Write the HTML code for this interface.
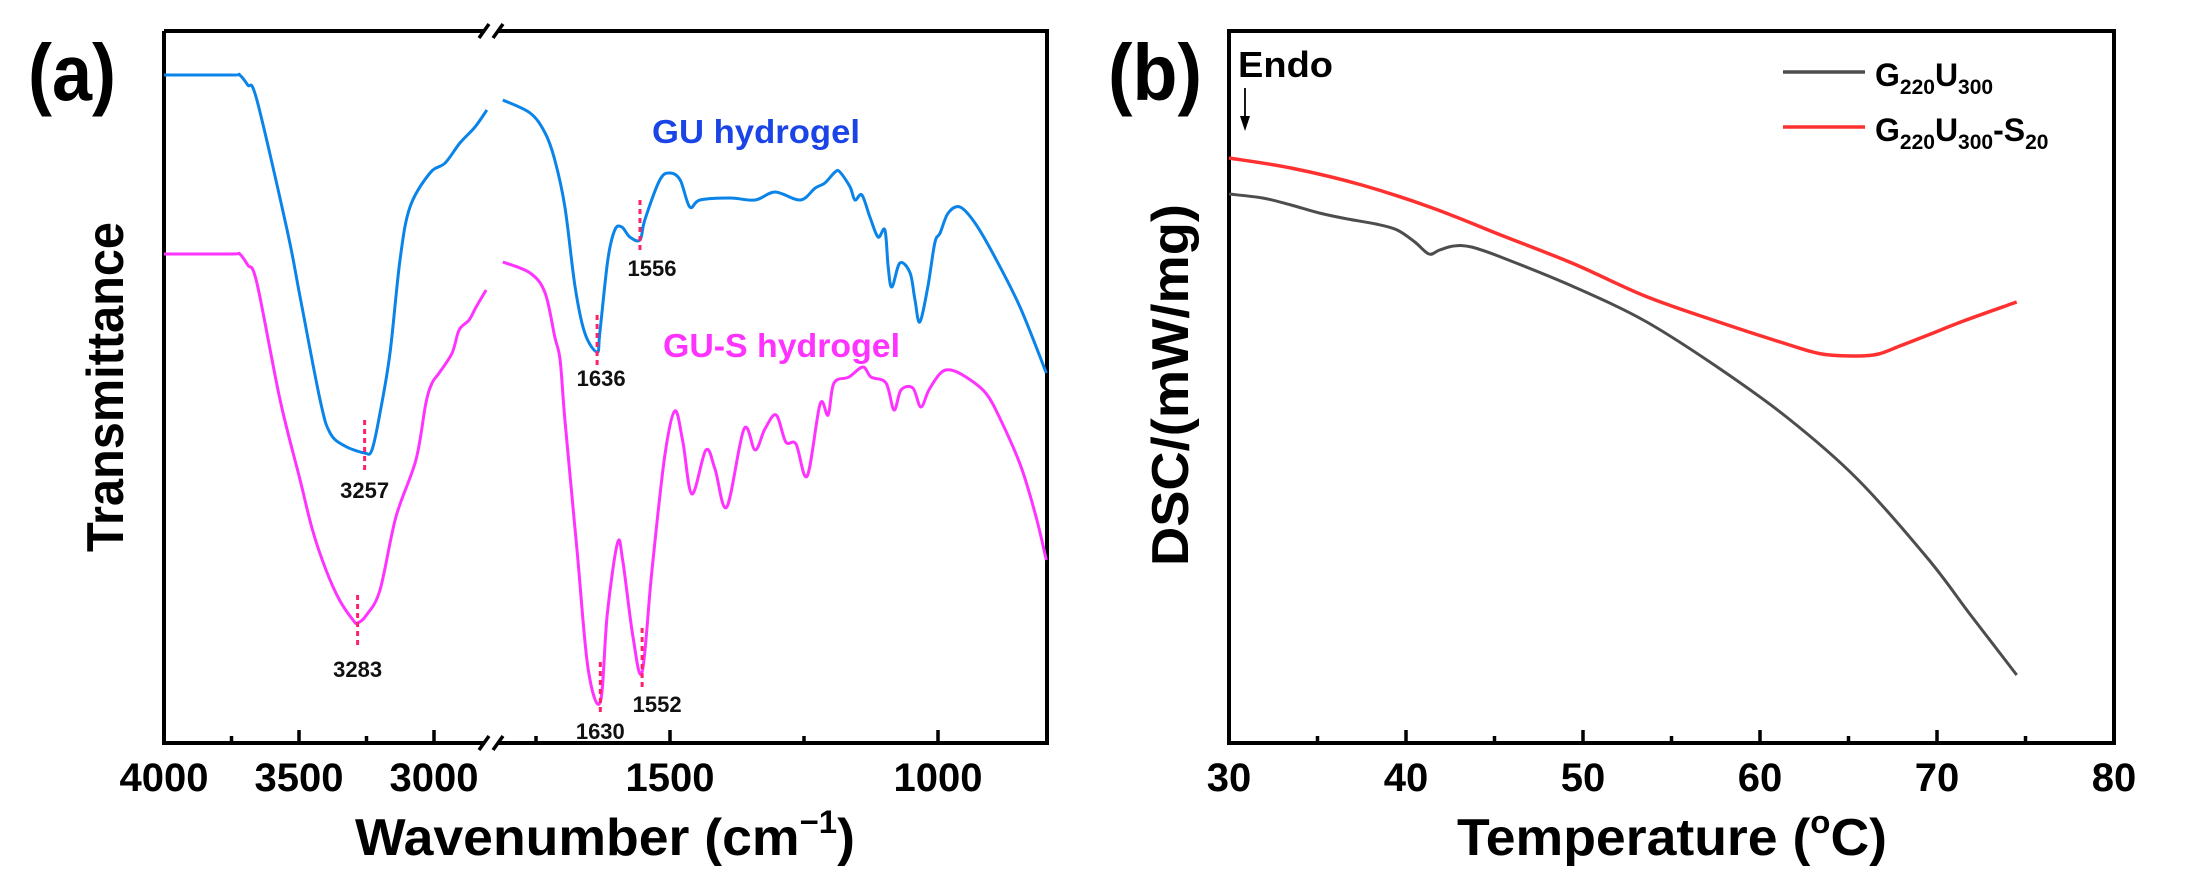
<!DOCTYPE html>
<html><head><meta charset="utf-8"><title>FTIR and DSC</title>
<style>
html,body{margin:0;padding:0;background:#fff;}
svg{display:block;font-family:"Liberation Sans",Arial,sans-serif;}
</style></head>
<body>
<svg id="fig" width="2188" height="884" viewBox="0 0 2188 884">
  <g id="panelA"></g>
  <g id="panelB"></g>
</svg>
<script>
// ---------- Panel (a) FTIR data ----------
const guWave = [4000,3750,3720,3690,3656,3544,3496,3422,3385,3330,3257,3230,3200,3163,3126,3089,3015,2959,2904,2848,2804,
  1812,1761,1733,1715,1696,1677,1659,1636,1631,1616,1603,1590,1575,1556,1547,1519,1500,1481,1463,1444,1388,1341,1304,1257,1229,1211,1192,1183,1164,1155,1142,1127,1112,1099,1093,1086,1071,1052,1043,1034,1019,1006,996,981,959,931,894,847,798];
const guVal = [668,668,668,658,643,513,446,343,310,297,290,293,330,390,483,536,570,580,600,616,633,
  643,630,610,583,536,456,410,391,410,483,513,516,506,503,523,563,570,563,536,543,545,543,551,543,555,560,571,571,556,543,548,526,506,513,476,456,480,470,443,421,456,500,510,530,536,520,486,436,370];
const gusWave = [4000,3750,3720,3690,3656,3570,3496,3450,3400,3350,3300,3283,3250,3200,3141,3067,3030,3007,2981,2933,2907,2870,2844,2807,
  1812,1761,1733,1715,1705,1696,1673,1653,1630,1617,1598,1588,1569,1552,1534,1510,1491,1476,1459,1433,1416,1394,1362,1341,1323,1302,1284,1265,1244,1220,1205,1194,1166,1140,1125,1097,1082,1069,1047,1032,1017,995,976,948,911,883,845,817,798];
const gusVal = [489,489,489,478,460,343,263,213,173,143,123,120,128,153,226,283,340,360,370,390,413,423,436,453,
  481,470,450,406,383,323,190,75,41,129,200,182,106,71,171,286,332,301,249,293,274,236,314,293,314,328,301,299,267,339,328,360,366,376,366,360,333,353,355,336,353,370,373,366,350,323,276,226,183];
const peakWaves = [3257,1636,1556,3283,1630,1552];
const peakSeries = ["gu","gu","gu","gus","gus","gus"];
const xTicksA = [4000,3500,3000,1500,1000];
const xMinorA = [3750,3250,1750,1250];

// ---------- Panel (b) DSC data ----------
const tempRed = [30,33.5,37.5,41.5,45.5,49.5,53.5,57.5,61.5,63.5,65.5,66.7,67.9,69.5,71.5,74.5];
const dscRed  = [585,575,558,535,507,479,447,422,399,389,387,389,397,408,422,441];
const tempGray = [30,31.9,33.5,35.1,36.7,38.3,39.5,40.5,41.3,41.9,42.7,43.7,45.5,49.5,53.5,57.5,61.5,65.5,69.5,71.9,74.5];
const dscGray  = [549,545,538,530,524,519,513,501,489,493,497,496,485,456,422,377,326,264,184,128,68];
const xTicksB = [30,40,50,60,70,80];
const xMinorB = [35,45,55,65,75];

const NS = "http://www.w3.org/2000/svg";
function mk(tag, attrs, parent){
  const e = document.createElementNS(NS, tag);
  for (const k in attrs) e.setAttribute(k, attrs[k]);
  parent.appendChild(e);
  return e;
}
function smooth(pts){
  if (!pts.length) return '';
  let d = 'M' + pts[0][0].toFixed(1) + ',' + pts[0][1].toFixed(1);
  for (let i=0;i<pts.length-1;i++){
    const p0 = pts[Math.max(0,i-1)], p1 = pts[i], p2 = pts[i+1], p3 = pts[Math.min(pts.length-1,i+2)];
    const c1x = p1[0] + (p2[0]-p0[0])/6, c1y = p1[1] + (p2[1]-p0[1])/6;
    const c2x = p2[0] - (p3[0]-p1[0])/6, c2y = p2[1] - (p3[1]-p1[1])/6;
    d += ` C${c1x.toFixed(1)},${c1y.toFixed(1)} ${c2x.toFixed(1)},${c2y.toFixed(1)} ${p2[0].toFixed(1)},${p2[1].toFixed(1)}`;
  }
  return d;
}

// ----- scales -----
const A = {l:164, r:1047, t:31, b:743};
function xA(w){ return w >= 2790 ? 164 + (4000 - w) * 0.27 : 670 + (1500 - w) * 0.536; }
function yA(v){ return A.b - v; }
const B = {l:1229, r:2114, t:31, b:743};
function xB(t){ return B.l + (t - 30) * (B.r - B.l) / 50; }
function yB(v){ return B.b - v; }

const pa = document.getElementById('panelA');
const pb = document.getElementById('panelB');

// ----- Panel A frame -----
let el;
el = mk('path', {d:`M${A.l},${A.t} V${A.b} H485 M498,${A.b} H${A.r} V${A.t} H498 M485,${A.t} H${A.l}`, fill:'none', stroke:'#000', 'stroke-width':4}, pa);


[[A.b],[A.t]].forEach(([yy], i)=>{
  const g = mk('path', {d:`M479,${yy+7} L489,${yy-7} M493,${yy+7} L503,${yy-7}`, stroke:'#000', 'stroke-width':3.5, fill:'none'}, pa);
  
  
});
xTicksA.forEach(w=>{
  const x = xA(w);
  const t = mk('line', {x1:x, x2:x, y1:A.b, y2:A.b-13, stroke:'#000', 'stroke-width':3.5}, pa);
  
  
  const lb = mk('text', {x:x, y:791, 'font-size':40, 'font-weight':'bold', 'text-anchor':'middle', fill:'#000'}, pa);
  lb.textContent = w;
  
  
});
xMinorA.forEach(w=>{
  const x = xA(w);
  const t = mk('line', {x1:x, x2:x, y1:A.b, y2:A.b-7, stroke:'#000', 'stroke-width':3.5}, pa);
  
  
});

// ----- Panel A series -----
function seriesPath(ws, vs){
  const left = [], right = [];
  ws.forEach((w,i)=>{ (w >= 2790 ? left : right).push([xA(w), yA(vs[i])]); });
  return smooth(left) + ' ' + smooth(right);
}
el = mk('path', {d:seriesPath(guWave, guVal), fill:'none', stroke:'#0a84e8', 'stroke-width':3, 'stroke-linejoin':'round'}, pa);


el = mk('path', {d:seriesPath(gusWave, gusVal), fill:'none', stroke:'#ff33ff', 'stroke-width':3, 'stroke-linejoin':'round'}, pa);



// peak annotations
const dashUp = [33,37,40,28,40,44];
const dashDown = [20,13,10,25,11,18];
const labDy = [45,34,36,54,37,40];
const labDx = [0,4,12,0,0,15];
peakWaves.forEach((w,i)=>{
  const ws = peakSeries[i]==='gu' ? guWave : gusWave;
  const vs = peakSeries[i]==='gu' ? guVal : gusVal;
  const v = vs[ws.indexOf(w)];
  const x = xA(w), y = yA(v);
  const dl = mk('line', {x1:x, x2:x, y1:y-dashUp[i], y2:y+dashDown[i], stroke:'#ff2266', 'stroke-width':3, 'stroke-dasharray':'5,4'}, pa);
  
  
  const lb = mk('text', {x:x+labDx[i], y:y+labDy[i], 'font-size':22, 'font-weight':'bold', 'text-anchor':'middle', fill:'#111'}, pa);
  lb.textContent = w;
  
  
});

// ----- Panel B frame -----
el = mk('rect', {x:B.l, y:B.t, width:B.r-B.l, height:B.b-B.t, fill:'none', stroke:'#000', 'stroke-width':4}, pb);


xTicksB.forEach(t=>{
  const x = xB(t);
  if (t>30 && t<80){
    const tk = mk('line', {x1:x, x2:x, y1:B.b, y2:B.b-13, stroke:'#000', 'stroke-width':3.5}, pb);
    
    
  }
  const lb = mk('text', {x:x, y:791, 'font-size':40, 'font-weight':'bold', 'text-anchor':'middle', fill:'#000'}, pb);
  lb.textContent = t;
  
  
});
xMinorB.forEach(t=>{
  const x = xB(t);
  const tk = mk('line', {x1:x, x2:x, y1:B.b, y2:B.b-7, stroke:'#000', 'stroke-width':3.5}, pb);
  
  
});
function dscPath(ts, vs){
  return smooth(ts.map((t,i)=>[xB(t), yB(vs[i])]));
}
el = mk('path', {d:dscPath(tempGray, dscGray), fill:'none', stroke:'#4d4d4d', 'stroke-width':3, 'stroke-linejoin':'round'}, pb);


el = mk('path', {d:dscPath(tempRed, dscRed), fill:'none', stroke:'#ff3030', 'stroke-width':3.5, 'stroke-linejoin':'round'}, pb);


</script>

<!-- static text overlays -->
<svg width="2188" height="884" viewBox="0 0 2188 884" style="position:absolute;left:0;top:0;font-family:'Liberation Sans',Arial,sans-serif;">
  <text x="28" y="100" font-size="80" font-weight="bold" textLength="88" lengthAdjust="spacingAndGlyphs">(a)</text>
  <text x="1108" y="100" font-size="80" font-weight="bold" textLength="94" lengthAdjust="spacingAndGlyphs">(b)</text>

  <text x="652" y="143" font-size="33" font-weight="bold" fill="#1a44e6" textLength="208" lengthAdjust="spacingAndGlyphs">GU hydrogel</text>
  <text x="663" y="357" font-size="33" font-weight="bold" fill="#ff33ff" textLength="237" lengthAdjust="spacingAndGlyphs">GU-S hydrogel</text>

  <text x="106" y="387" font-size="52" font-weight="bold" text-anchor="middle" transform="rotate(-90 106 387)" dominant-baseline="central" textLength="330" lengthAdjust="spacingAndGlyphs">Transmittance</text>
  <text x="605" y="855" font-size="52" font-weight="bold" text-anchor="middle" textLength="500" lengthAdjust="spacingAndGlyphs">Wavenumber (cm<tspan font-size="32" dy="-22">−1</tspan><tspan dy="22">)</tspan></text>

  <text x="1171" y="385" font-size="52" font-weight="bold" text-anchor="middle" transform="rotate(-90 1171 385)" dominant-baseline="central" textLength="362" lengthAdjust="spacingAndGlyphs">DSC/(mW/mg)</text>
  <text x="1672" y="855" font-size="52" font-weight="bold" text-anchor="middle" textLength="430" lengthAdjust="spacingAndGlyphs">Temperature (<tspan font-size="32" dy="-22">o</tspan><tspan dy="22">C)</tspan></text>

  <text x="1238" y="77" font-size="36" font-weight="bold" textLength="95" lengthAdjust="spacingAndGlyphs">Endo</text>
  <g>
    <line x1="1245" y1="88" x2="1245" y2="122" stroke="#000" stroke-width="1.8"/>
    <polygon points="1240,116 1250,116 1245,131" fill="#000"/>
  </g>

  <g>
    <line x1="1783" y1="72" x2="1865" y2="72" stroke="#4d4d4d" stroke-width="3.5"/>
    <text x="1875" y="86" font-size="32" font-weight="bold">G<tspan font-size="21" dy="8">220</tspan><tspan dy="-8">U</tspan><tspan font-size="21" dy="8">300</tspan></text>
    <line x1="1783" y1="127" x2="1865" y2="127" stroke="#ff3030" stroke-width="3.5"/>
    <text x="1875" y="141" font-size="32" font-weight="bold">G<tspan font-size="21" dy="8">220</tspan><tspan dy="-8">U</tspan><tspan font-size="21" dy="8">300</tspan><tspan dy="-8">-S</tspan><tspan font-size="21" dy="8">20</tspan></text>
  </g>
</svg>
</body></html>
